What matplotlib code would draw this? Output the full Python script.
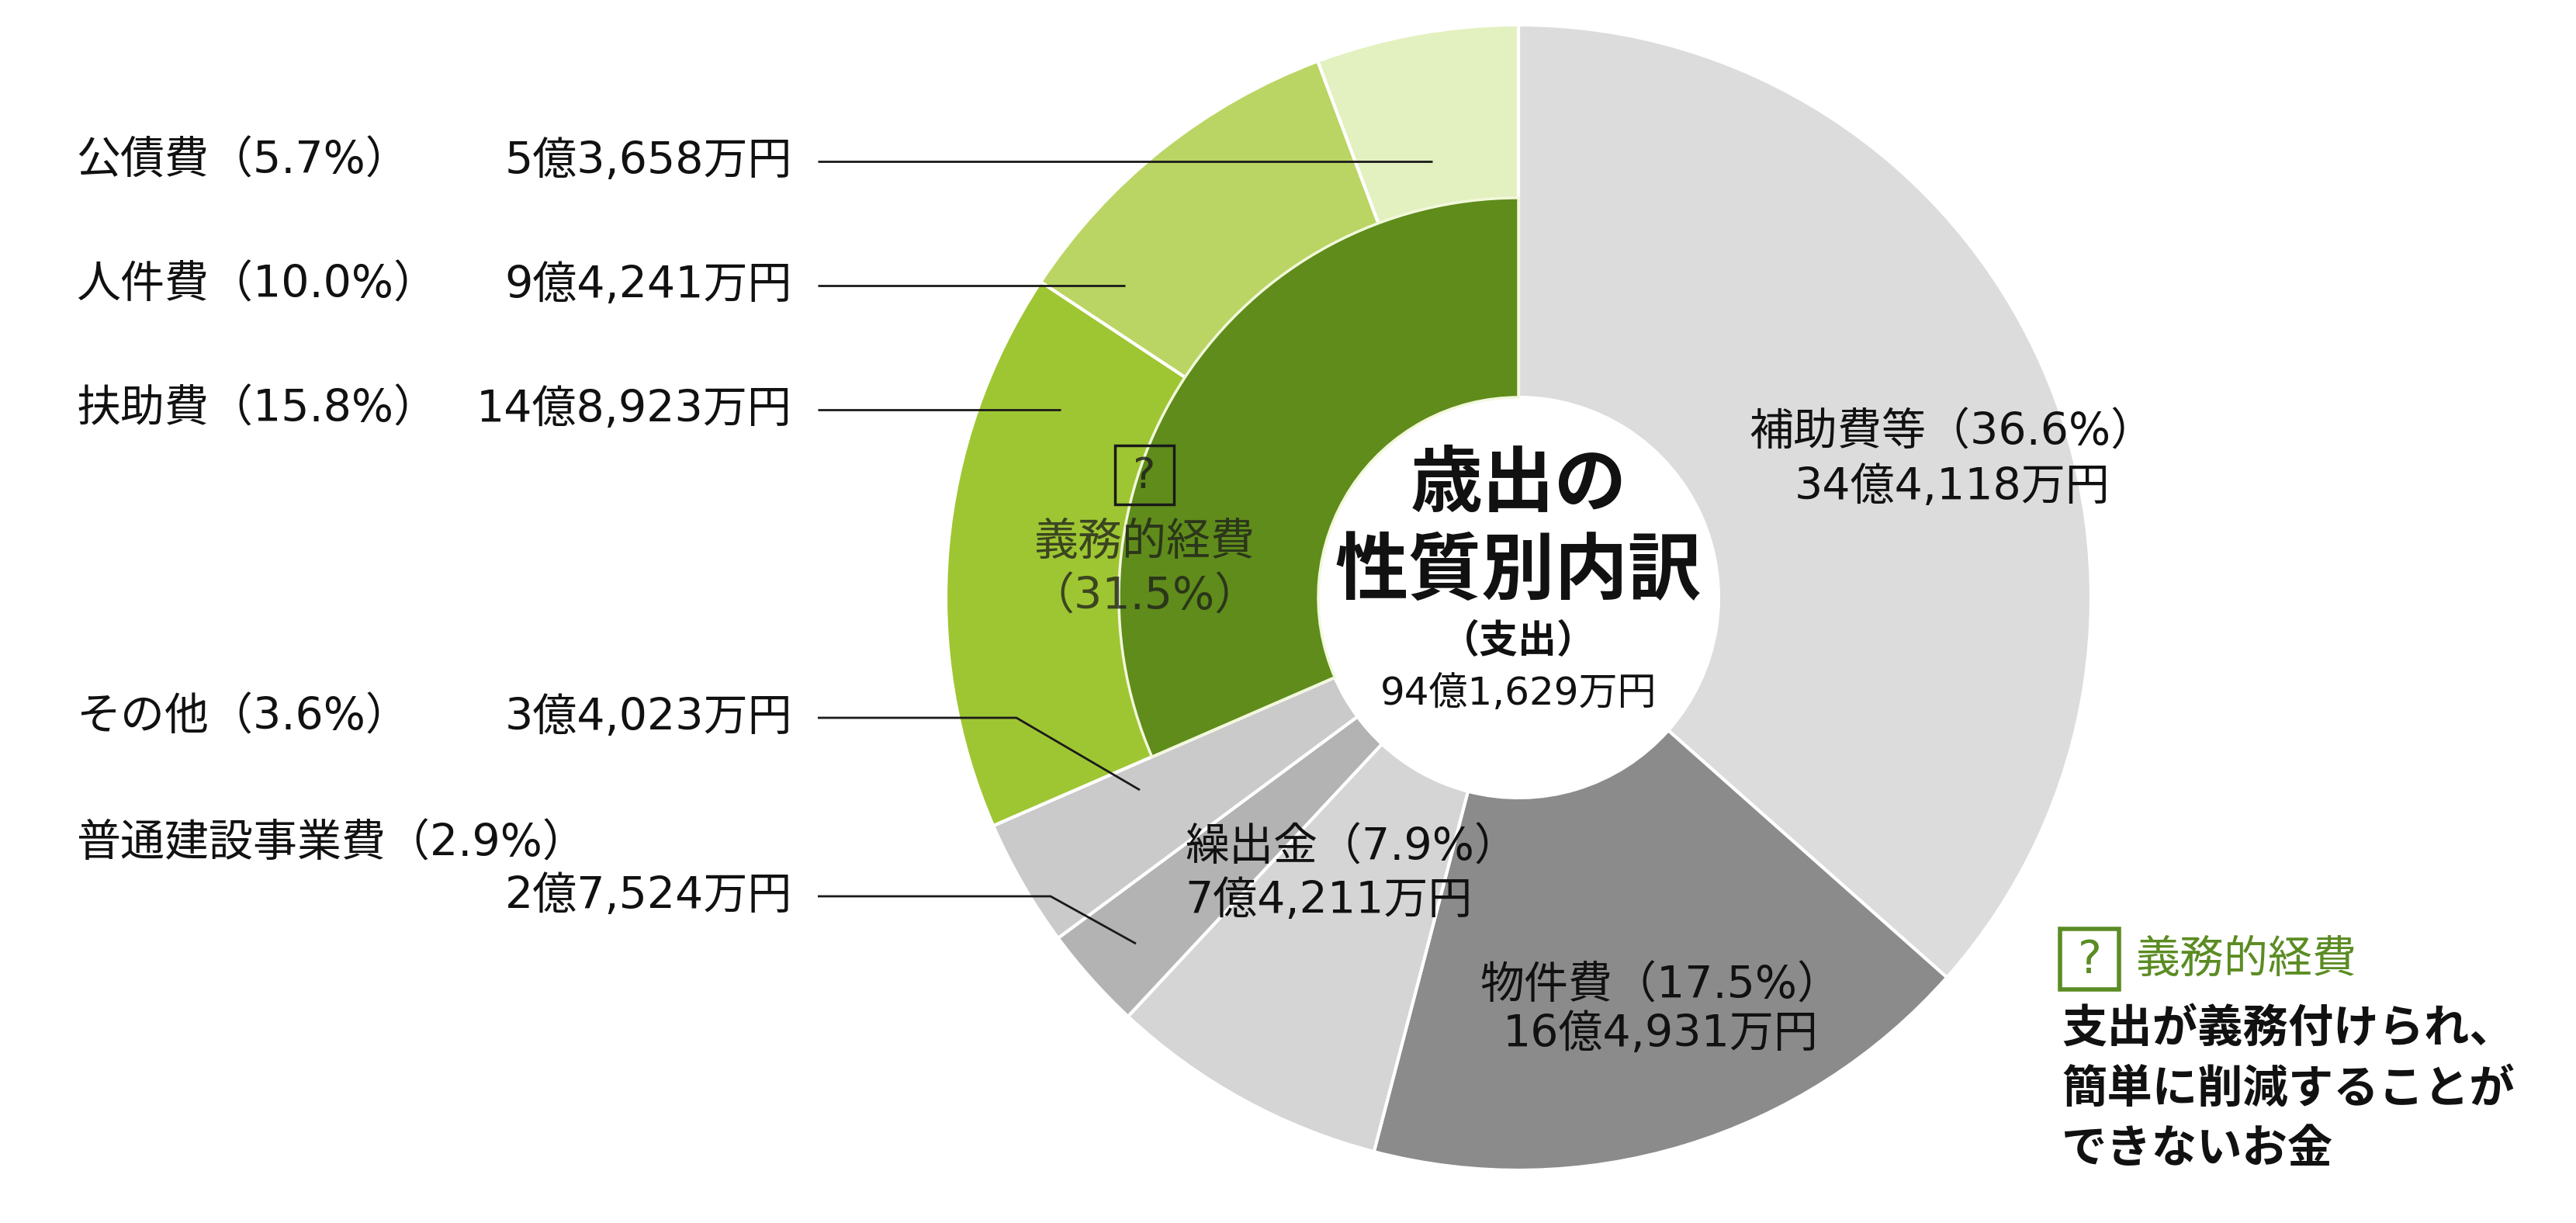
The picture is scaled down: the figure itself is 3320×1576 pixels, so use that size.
import matplotlib
matplotlib.use('Agg')
from matplotlib import pyplot as plot
from matplotlib.patches import Rectangle

# DejaVu gives the wide digits of the original, Noto CJK supplies the kanji/kana
plot.rcParams['font.family'] = ['DejaVu Sans', 'Noto Sans CJK JP']

# 歳出の性質別内訳 (amounts in 万円), clockwise from 12 o'clock
categories = ['補助費等', '物件費', '繰出金', '普通建設事業費', 'その他', '扶助費', '人件費', '公債費']
amounts = [344118, 164931, 74211, 27524, 34023, 148923, 94241, 53658]
percents = [36.6, 17.5, 7.9, 2.9, 3.6, 15.8, 10.0, 5.7]
mandatory = ['扶助費', '人件費', '公債費']
mandatoryName = '義務的経費'
mandatoryPercent = 31.5
titleLines = ['歳出の', '性質別内訳']
subTitle = '（支出）'
noteLines = ['支出が義務付けられ、', '簡単に削減することが', 'できないお金']

colors = {
    '補助費等': '#dcdcdc',
    '物件費': '#8b8b8b',
    '繰出金': '#d5d5d5',
    '普通建設事業費': '#b3b3b3',
    'その他': '#cacaca',
    '扶助費': '#9ec633',
    '人件費': '#bad563',
    '公債費': '#e3f0c0',
}
mandatoryColor = '#5f8c1b'
noteGreen = '#5b8c23'


def yen(v):
    oku, man = divmod(v, 10000)
    return f'{oku}億{man:,}万円'


W, H = 3320, 1576
def Y(y):  # picture rows -> data y (y up)
    return H - y

cx, cy = 1957, Y(770)
rOut, rMid, rIn = 738, 515, 258

fig = plot.figure(figsize=(W / 100, H / 100), dpi=100)
ax = fig.add_axes([0, 0, 1, 1])

# outer ring: every category, full depth
wedges, _ = ax.pie(amounts, colors=[colors[c] for c in categories], radius=rOut,
                   center=(cx, cy), startangle=90, counterclock=False,
                   wedgeprops=dict(width=rOut - rIn, edgecolor='white', linewidth=3))

# inner ring: mandatory group as one dark wedge, others hidden
innerNames = [c for c in categories if c not in mandatory] + [mandatoryName]
innerValues = [a for c, a in zip(categories, amounts) if c not in mandatory]
innerValues.append(sum(a for c, a in zip(categories, amounts) if c in mandatory))
inner, _ = ax.pie(innerValues, colors=['none'] * (len(innerValues) - 1) + [mandatoryColor],
                  radius=rMid, center=(cx, cy), startangle=90, counterclock=False,
                  wedgeprops=dict(width=rMid - rIn, edgecolor='#f2f8dc', linewidth=2.5))
for w, n in zip(inner, innerNames):
    if n != mandatoryName:
        w.set_visible(False)

ax.set_xlim(0, W)
ax.set_ylim(0, H)
ax.set_aspect('equal')
ax.axis('off')

info = {c: (yen(a), p) for c, a, p in zip(categories, amounts, percents)}
lineKw = dict(color='#1a1a1a', linewidth=2, solid_capstyle='butt')
labelKw = dict(fontsize=41, color='#111111')

# left side labels with leader lines
leftRows = {'公債費': (208, [(1054, 208), (1846, 208)]),
            '人件費': (368, [(1054, 368), (1450, 368)]),
            '扶助費': (528, [(1054, 528), (1367, 528)]),
            'その他': (925, [(1054, 925), (1310, 925), (1469, 1018)])}
for name, (yy, pts) in leftRows.items():
    amt, pct = info[name]
    ax.text(98, Y(yy), f'{name}（{pct:.1f}%）', ha='left', va='center', **labelKw)
    ax.text(1021, Y(yy), amt, ha='right', va='center', **labelKw)
    ax.plot([p[0] for p in pts], [Y(p[1]) for p in pts], **lineKw)

amt, pct = info['普通建設事業費']
ax.text(98, Y(1088), f'普通建設事業費（{pct:.1f}%）', ha='left', va='center', **labelKw)
ax.text(1021, Y(1155), amt, ha='right', va='center', **labelKw)
pts = [(1054, 1155), (1354, 1155), (1464, 1216)]
ax.plot([p[0] for p in pts], [Y(p[1]) for p in pts], **lineKw)

# labels inside the ring
amt, pct = info['補助費等']
ax.text(2516, Y(558), f'補助費等（{pct:.1f}%）', ha='center', va='center', **labelKw)
ax.text(2516, Y(628), amt, ha='center', va='center', **labelKw)
amt, pct = info['物件費']
ax.text(2140, Y(1271), f'物件費（{pct:.1f}%）', ha='center', va='center', **labelKw)
ax.text(2140, Y(1334), amt, ha='center', va='center', **labelKw)
amt, pct = info['繰出金']
ax.text(1527, Y(1093), f'繰出金（{pct:.1f}%）', ha='left', va='center', **labelKw)
ax.text(1527, Y(1161), amt, ha='left', va='center', **labelKw)

# mandatory group label
ax.add_patch(Rectangle((1475 - 38, Y(612) - 38), 76, 76, fill=False,
                       edgecolor='#1a1a1a', linewidth=2.5))
ax.text(1475, Y(614), '?', ha='center', va='center', fontsize=40, color='#1a1a1a', alpha=0.8)
ax.text(1475, Y(699), mandatoryName, ha='center', va='center', fontsize=41,
        color='#1a1a1a', alpha=0.75)
ax.text(1475, Y(770), f'（{mandatoryPercent:.1f}%）', ha='center', va='center', fontsize=41,
        color='#1a1a1a', alpha=0.75)

# centre title
ax.text(cx, Y(626), titleLines[0], ha='center', va='center', fontsize=67, fontweight='bold', color='#111111')
ax.text(cx, Y(739), titleLines[1], ha='center', va='center', fontsize=68, fontweight='bold', color='#111111')
ax.text(cx, Y(827), subTitle, ha='center', va='center', fontsize=36, fontweight='bold', color='#111111')
ax.text(cx, Y(894), yen(sum(amounts)), ha='center', va='center', fontsize=36, color='#111111')

# note in the lower right
ax.add_patch(Rectangle((2693 - 38, Y(1236) - 39), 76, 78, facecolor='white',
                       edgecolor=noteGreen, linewidth=4))
ax.text(2693, Y(1238), '?', ha='center', va='center', fontsize=42, color=noteGreen)
ax.text(2752, Y(1237), mandatoryName, ha='left', va='center', fontsize=41, color=noteGreen)
for i, line in enumerate(noteLines):
    ax.text(2657, Y(1327 + 77 * i), line, ha='left', va='center', fontsize=42,
            fontweight='bold', color='#111111')

fig.savefig('out.png', dpi=100, facecolor='white')
